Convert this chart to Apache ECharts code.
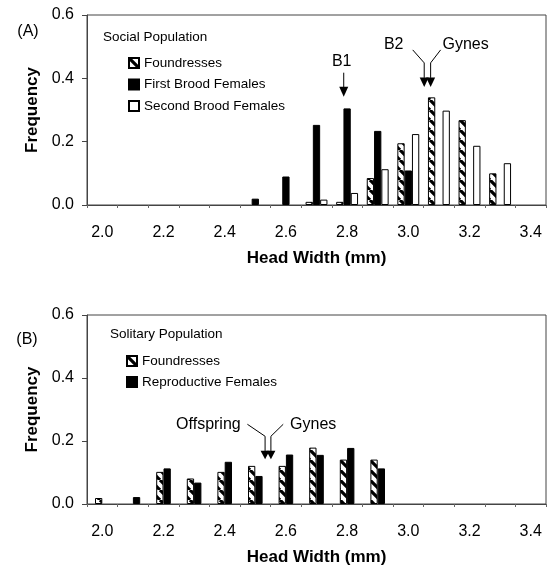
<!DOCTYPE html>
<html><head><meta charset="utf-8">
<script src="https://cdn.jsdelivr.net/npm/echarts@6/dist/echarts.min.js"></script>
<style>html,body{margin:0;padding:0;background:#fff}#c{width:554px;height:567px}</style>
</head><body><div id="c"></div>
<script>
// ---- data ----
const categories = ['2.0','2.1','2.2','2.3','2.4','2.5','2.6','2.7','2.8','2.9','3.0','3.1','3.2','3.3','3.4'];
const yMin = 0, yMax = 0.6, yStep = 0.2;
const socialFoundresses  = [null,null,null,null,null,null,null,0.010,0.010,0.085,0.195,0.340,0.268,0.100,null];
const socialFirstBrood   = [null,null,null,null,null,0.020,0.090,0.253,0.305,0.234,0.109,null,null,null,null];
const socialSecondBrood  = [null,null,null,null,null,null,null,0.017,0.038,0.113,0.224,0.298,0.187,0.132,null];
const solitaryFoundresses  = [0.019,null,0.102,0.081,0.102,0.121,0.121,0.179,0.141,0.141,null,null,null,null,null];
const solitaryReproductive = [null,0.022,0.113,0.068,0.134,0.089,0.157,0.156,0.178,0.113,null,null,null,null,null];
// mean head widths marked with arrows (mm) and arrow tip heights
const socialMarks   = {b1: 2.789, b2: 3.052, gynes: 3.073, tipB1: 0.342, tipB2: 0.373};
const solitaryMarks = {offspring: 2.532, gynes: 2.551, tip: 0.142};

// ---- styles ----
const FONT = '"Liberation Sans", Arial, sans-serif';
function hatch(){
  const c = document.createElement('canvas'); c.width = 10; c.height = 10;
  const g = c.getContext('2d');
  g.fillStyle = '#fff'; g.fillRect(0,0,10,10);
  g.strokeStyle = '#000'; g.lineWidth = 3.2; g.beginPath();
  for (const o of [-10,0,10]) { g.moveTo(o,0); g.lineTo(o+10,10); }
  g.stroke();
  return c;
}
const hatchFill = {image: hatch(), repeat: 'repeat'};
const styHatch = {color: hatchFill, borderColor:'#000', borderWidth:1};
const styBlack = {color:'#000', borderColor:'#000', borderWidth:1};
const styWhite = {color:'#fff', borderColor:'#000', borderWidth:1};

const chart = echarts.init(document.getElementById('c'), null, {renderer:'canvas'});

function catAxis(gi){
  return {
    type:'category', gridIndex:gi, data:categories, boundaryGap:true,
    axisLine:{lineStyle:{color:'#444', width:1}},
    axisTick:{show:true, interval:0, length:3, lineStyle:{color:'#666'}},
    axisLabel:{interval:1, fontSize:16, margin:20, color:'#000', fontFamily:FONT},
    name:'Head Width (mm)', nameLocation:'middle', nameGap:45,
    nameTextStyle:{fontSize:17, fontWeight:'bold', color:'#000', fontFamily:FONT}
  };
}
function valX(gi){ return {type:'value', gridIndex:gi, min:1.95, max:3.45, show:false}; }
function yAx(gi){
  return {
    type:'value', gridIndex:gi, min:yMin, max:yMax, interval:yStep,
    axisLine:{show:true, lineStyle:{color:'#444'}},
    axisTick:{show:true, length:5, lineStyle:{color:'#444'}},
    splitLine:{show:false},
    axisLabel:{formatter:v=>v.toFixed(1), fontSize:16, margin:13, color:'#000', fontFamily:FONT},
    name:'Frequency', nameLocation:'middle', nameGap:42,
    nameTextStyle:{fontSize:17, fontWeight:'bold', color:'#000', fontFamily:FONT}
  };
}
function bar(name, data, xi, yi, sty, w){
  return {type:'bar', name, data, xAxisIndex:xi, yAxisIndex:yi, barWidth:w, barGap:'0%',
          itemStyle:sty, emphasis:{disabled:true}, animation:false};
}
const legendText = {fontSize:13.5, color:'#000', fontFamily:FONT, lineHeight:14};

const option = {
  animation:false,
  textStyle:{fontFamily:FONT},
  grid:[
    {left:87, top:15, width:459, height:190, show:true, borderColor:'#444', borderWidth:1, backgroundColor:'#fff'},
    {left:87, top:315, width:459, height:190, show:true, borderColor:'#444', borderWidth:1, backgroundColor:'#fff'}
  ],
  xAxis:[catAxis(0), catAxis(1), valX(0), valX(1)],
  yAxis:[yAx(0), yAx(1)],
  legend:[
    {orient:'vertical', left:128, top:56, itemWidth:10, itemHeight:10, itemGap:7.5, padding:0, icon:'rect',
     data:['Foundresses','First Brood Females','Second Brood Females'], textStyle:legendText, selectedMode:false},
    {orient:'vertical', left:126, top:354, itemWidth:10, itemHeight:10, itemGap:7, padding:0, icon:'rect',
     data:['Foundresses','Reproductive Females'], textStyle:legendText, selectedMode:false}
  ],
  series:[
    bar('Foundresses', socialFoundresses, 0, 0, styHatch, 7.3),
    bar('First Brood Females', socialFirstBrood, 0, 0, styBlack, 7.3),
    bar('Second Brood Females', socialSecondBrood, 0, 0, styWhite, 7.3),
    bar('Foundresses', solitaryFoundresses, 1, 1, styHatch, 7.3),
    bar('Reproductive Females', solitaryReproductive, 1, 1, styBlack, 7.3)
  ]
};
chart.setOption(option);

function tx(text, x, y, align, size){
  return {type:'text', x, y, style:{text, fill:'#000', font:(size||16)+'px '+FONT, textAlign:align||'center', textVerticalAlign:'middle'}, z:10};
}
function pl(points){ return {type:'polyline', shape:{points}, style:{stroke:'#000', lineWidth:1, fill:null}, z:10}; }
function tri(x, tip, w, h){ return {type:'polygon', shape:{points:[[x-w/2,tip-h],[x+w/2,tip-h],[x,tip]]}, style:{fill:'#000'}, z:10}; }

const px = (xi, v) => chart.convertToPixel({xAxisIndex:xi}, v);
const py = (yi, v) => chart.convertToPixel({yAxisIndex:yi}, v);

const g = [];
g.push(tx('(A)', 28, 32, 'center', 16));
g.push(tx('(B)', 27, 340, 'center', 16));
g.push(tx('Social Population', 103, 37, 'left', 13.5));
g.push(tx('Solitary Population', 110, 334, 'left', 13.5));

// Panel A: B1 arrow
{
  const x = px(2, socialMarks.b1), t = py(0, socialMarks.tipB1);
  g.push(pl([[x, t-24],[x, t-9]]));
  g.push(tri(x, t, 9, 10));
  g.push(tx('B1', x-2, t-35));
}
// Panel A: B2 / Gynes
{
  const xl = px(2, socialMarks.b2), xr = px(2, socialMarks.gynes), t = py(0, socialMarks.tipB2);
  g.push(tri(xl, t, 9, 9.5));
  g.push(tri(xr, t, 9, 9.5));
  g.push(pl([[xl, t-9],[xl, t-24],[xl-11.5, t-37]]));
  g.push(pl([[xr, t-9],[xr, t-24],[xr+10, t-37]]));
  g.push(tx('B2', xl-30.5, t-42));
  g.push(tx('Gynes', xr+35, t-42));
}
// Panel B: Offspring / Gynes
{
  const xl = px(3, solitaryMarks.offspring), xr = px(3, solitaryMarks.gynes), t = py(1, solitaryMarks.tip);
  g.push(tri(xl, t, 9, 8.5));
  g.push(tri(xr, t, 9, 8.5));
  g.push(pl([[xl, t-8],[xl, t-23],[xl-17.7, t-35]]));
  g.push(pl([[xr, t-8],[xr, t-23],[xr+12.3, t-35]]));
  g.push(tx('Offspring', xl-56.7, t-35));
  g.push(tx('Gynes', xr+42.3, t-35));
}
chart.setOption({graphic:g});
</script>
</body></html>
